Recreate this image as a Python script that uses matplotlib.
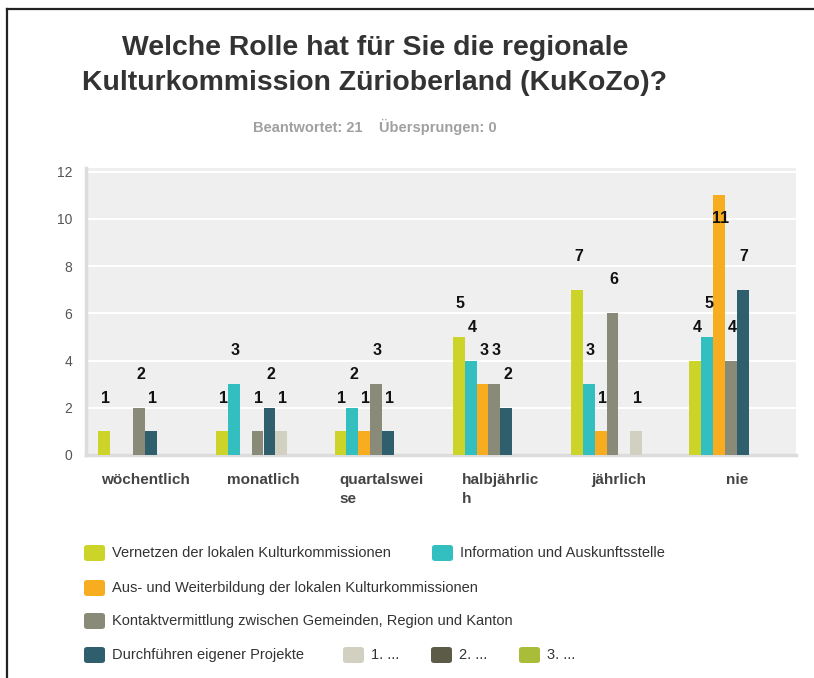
import matplotlib
matplotlib.use('Agg')
import matplotlib.pyplot as plt
from matplotlib import font_manager
from matplotlib.patches import FancyBboxPatch
from matplotlib.lines import Line2D
import numpy as np

# --- data ---
categories = ['wöchentlich', 'monatlich', 'quartalswei\nse', 'halbjährlic\nh', 'jährlich', 'nie']
series_names = ['Vernetzen der lokalen Kulturkommissionen',
                'Information und Auskunftsstelle',
                'Aus- und Weiterbildung der lokalen Kulturkommissionen',
                'Kontaktvermittlung zwischen Gemeinden, Region und Kanton',
                'Durchführen eigener Projekte',
                '1. ...', '2. ...', '3. ...']
vernetzen = [1, 1, 1, 5, 7, 4]
information = [0, 3, 2, 4, 3, 5]
weiterbildung = [0, 0, 1, 3, 1, 11]
kontakt = [2, 1, 3, 3, 6, 4]
projekte = [1, 2, 1, 2, 0, 7]
andere1 = [0, 1, 0, 0, 1, 0]
andere2 = [0, 0, 0, 0, 0, 0]
andere3 = [0, 0, 0, 0, 0, 0]
yticks = [0, 2, 4, 6, 8, 10, 12]

colors = ['#cdd429', '#33bec0', '#f7ad1f', '#8a8a79', '#2f5f6c', '#d1d0c1', '#5c5b48', '#a9bd38']
values = [vernetzen, information, weiterbildung, kontakt, projekte, andere1, andere2, andere3]

names = {f.name for f in font_manager.fontManager.ttflist}
if 'Liberation Sans Narrow' in names:
    tfont = ['Liberation Sans Narrow', 'DejaVu Sans']
    tsize = 23
else:
    tfont = ['Liberation Sans', 'DejaVu Sans']
    tsize = 20.4
plt.rcParams['font.family'] = ['Liberation Sans', 'DejaVu Sans']

W, H = 814, 678
fig = plt.figure(figsize=(W / 100, H / 100), dpi=100)

def fx(px):
    return px / W

def fy(py):
    return 1 - py / H

# frame of the screenshot
fig.add_artist(Line2D([fx(7), fx(7)], [fy(9), 0], color='#222222', lw=1.6))
fig.add_artist(Line2D([fx(7), 1], [fy(9), fy(9)], color='#222222', lw=1.6))

# title
fig.text(fx(375), fy(48), 'Welche Rolle hat für Sie die regionale', ha='center', va='center',
         fontsize=tsize, fontweight='bold', color='#333333', family=tfont)
fig.text(fx(375), fy(83), 'Kulturkommission Züriobe' + 'rland (KuKoZo)?',
         ha='center', va='center', fontsize=tsize, fontweight='bold', color='#333333', family=tfont)
fig.text(fx(375), fy(127), 'Beantwortet: 21    Übersprungen: 0', ha='center', va='center',
         fontsize=10.5, fontweight='bold', color='#a0a0a0', family=tfont)

# plot area
ax = fig.add_axes([fx(86), fy(455), fx(796) - fx(86), fy(168) - fy(455)])
ax.set_facecolor('#efefef')
n = len(values)
bw = 0.1
x = np.arange(len(categories))
for i, (vals, c) in enumerate(zip(values, colors)):
    pos = x - bw * n / 2 + bw * (i + 0.5)
    ax.bar(pos, vals, width=bw, color=c, zorder=3, edgecolor='none')
    for p, v in zip(pos, vals):
        if v == 0:
            continue
        if v + 1.4 > 12:
            off = -17
        else:
            off = 24
        ax.annotate(str(v), (p, v), xytext=(1, off), textcoords='offset points',
                    ha='center', va='center', fontsize=11.5, fontweight='bold', color='#111111', zorder=4)

ax.set_xlim(-0.5, len(categories) - 0.5)
ax.set_ylim(0, 12.15)
ax.set_yticks(yticks)
ax.yaxis.grid(True, color='white', lw=1.5, zorder=1)
ax.set_axisbelow(True)
for s in ['top', 'right']:
    ax.spines[s].set_visible(False)
ax.spines['left'].set_color('#dcdcdc')
ax.spines['bottom'].set_color('#dcdcdc')
ax.spines['left'].set_linewidth(2.5)
ax.spines['bottom'].set_linewidth(2.5)
ax.tick_params(axis='both', length=0)
ax.tick_params(axis='y', labelsize=10, labelcolor='#555555', pad=10)
ax.set_xticks(x)
ax.set_xticklabels(categories, fontsize=11, fontweight='bold', color='#444444', va='top')
for lbl in ax.get_xticklabels():
    lbl.set_multialignment('left')
    lbl.set_linespacing(1.45)
ax.tick_params(axis='x', pad=13)

# legend (flowing layout like the original)
leg_pos = [(84, 553), (432, 553), (84, 588), (84, 621), (84, 655), (343, 655), (431, 655), (519, 655)]
for (lx, ly), name, c in zip(leg_pos, series_names, colors):
    fig.add_artist(FancyBboxPatch((fx(lx), fy(ly + 8)), fx(21), 16 / H,
                                  boxstyle='round,pad=0,rounding_size=0.004',
                                  facecolor=c, edgecolor='none'))
    fig.text(fx(lx + 28), fy(ly), name, ha='left', va='center', fontsize=10.5, color='#333333')

fig.savefig('out.png', dpi=100, facecolor='white')
